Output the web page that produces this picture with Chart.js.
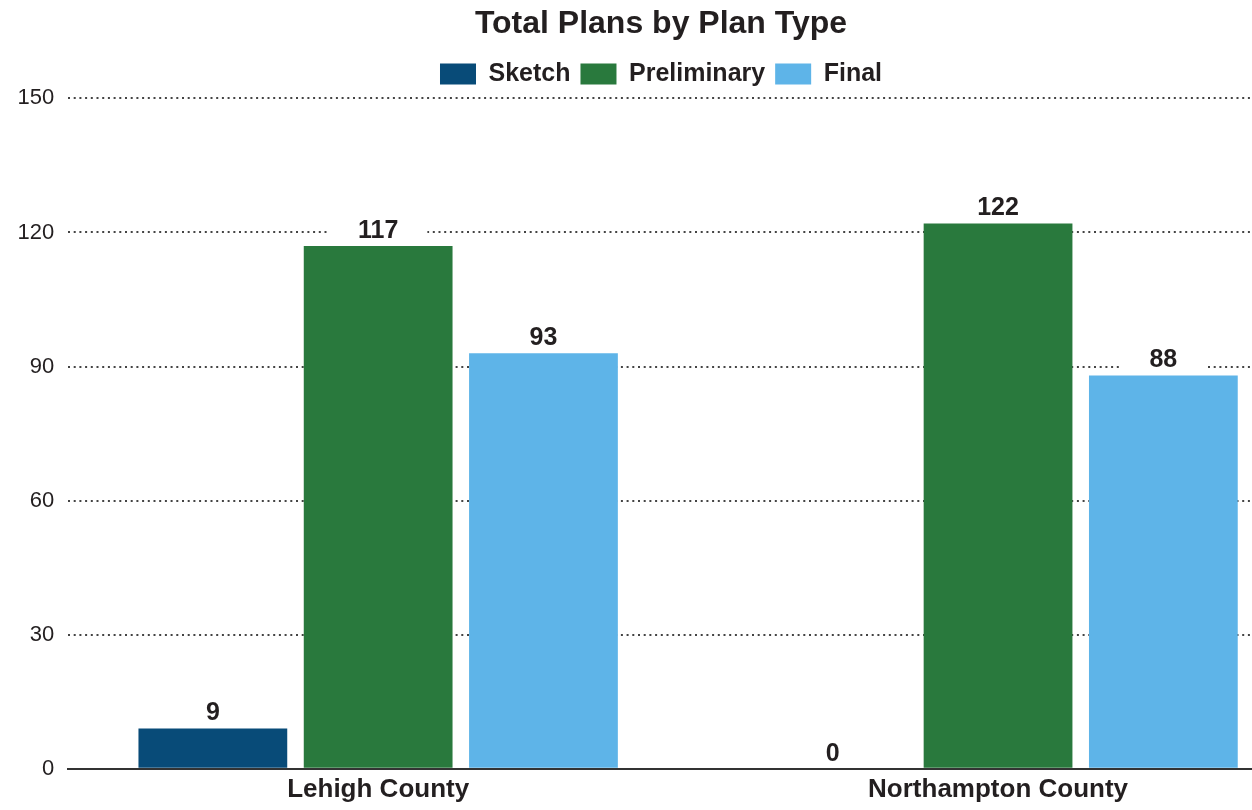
<!DOCTYPE html>
<html>
<head>
<meta charset="utf-8">
<title>Total Plans by Plan Type</title>
<script src="https://cdn.jsdelivr.net/npm/chart.js@4/dist/chart.umd.min.js"></script>
<style>
  html, body { margin: 0; padding: 0; background: #fff; overflow: hidden; }
  #wrap { width: 1322px; height: 810px; position: relative; }
</style>
</head>
<body>
<div id="wrap"><canvas id="planChart"></canvas></div>
<script>
const counties = ["Lehigh County", "Northampton County"];
const sketchPlans = [9, 0];
const preliminaryPlans = [117, 122];
const finalPlans = [93, 88];
const yTicks = [0, 30, 60, 90, 120, 150];

const textColor = "#231f20";
const fontFamily = "'Liberation Sans', Arial, Helvetica, sans-serif";

// a little extra room under the legend
const legendGap = {
  id: "legendGap",
  beforeInit(chart) {
    const fit = chart.legend.fit;
    chart.legend.fit = function () {
      fit.bind(chart.legend)();
      this.height += 2;
    };
  }
};

// value labels above each bar, on a white box that breaks the grid line
const barValueLabels = {
  id: "barValueLabels",
  afterDatasetsDraw(chart) {
    const ctx = chart.ctx;
    ctx.save();
    ctx.font = "bold 25px " + fontFamily;
    ctx.textAlign = "center";
    ctx.textBaseline = "middle";
    chart.data.datasets.forEach((ds, i) => {
      const meta = chart.getDatasetMeta(i);
      meta.data.forEach((bar, j) => {
        const label = String(ds.data[j]);
        const y = bar.y - 16;
        const w = ctx.measureText(label).width + 58;
        ctx.fillStyle = "#fff";
        ctx.fillRect(bar.x - w / 2, y - 13, w, 26);
        ctx.fillStyle = textColor;
        ctx.fillText(label, bar.x, y + 1);
      });
    });
    ctx.restore();
  }
};

const ctx = document.getElementById("planChart").getContext("2d");
new Chart(ctx, {
  type: "bar",
  data: {
    labels: counties,
    datasets: [
      { label: "Sketch", data: sketchPlans, backgroundColor: "#084b78" },
      { label: "Preliminary", data: preliminaryPlans, backgroundColor: "#29793d" },
      { label: "Final", data: finalPlans, backgroundColor: "#5eb4e8" }
    ]
  },
  options: {
    responsive: true,
    maintainAspectRatio: false,
    animation: false,
    layout: { padding: { left: 14, right: 14, top: 5, bottom: 0 } },
    datasets: {
      bar: { categoryPercentage: 0.8, barPercentage: 0.9 }
    },
    plugins: {
      title: {
        display: true,
        text: "Total Plans by Plan Type",
        color: textColor,
        font: { family: fontFamily, size: 32, weight: "bold" },
        padding: { top: 0, bottom: 8 }
      },
      legend: {
        position: "top",
        labels: {
          color: textColor,
          font: { family: fontFamily, size: 25, weight: "bold" },
          boxWidth: 36,
          boxHeight: 21,
          padding: 10
        }
      },
      tooltip: { enabled: false }
    },
    scales: {
      x: {
        grid: { display: false, drawTicks: false },
        border: { display: true, color: "#333", width: 2 },
        ticks: {
          color: textColor,
          font: { family: fontFamily, size: 26, weight: "bold" },
          padding: 5
        }
      },
      y: {
        min: 0,
        max: 150,
        afterBuildTicks: scale => {
          scale.ticks = yTicks.map(v => ({ value: v }));
        },
        afterFit: scale => {
          scale.width -= 10.5;
        },
        grid: {
          drawTicks: false,
          lineWidth: 2,
          color: c => (c.tick && c.tick.value === 0 ? "rgba(0,0,0,0)" : "#444")
        },
        border: { display: false, dash: [2, 3.7] },
        ticks: {
          color: textColor,
          font: { family: fontFamily, size: 22 },
          padding: 14
        }
      }
    }
  },
  plugins: [legendGap, barValueLabels]
});
</script>
</body>
</html>
